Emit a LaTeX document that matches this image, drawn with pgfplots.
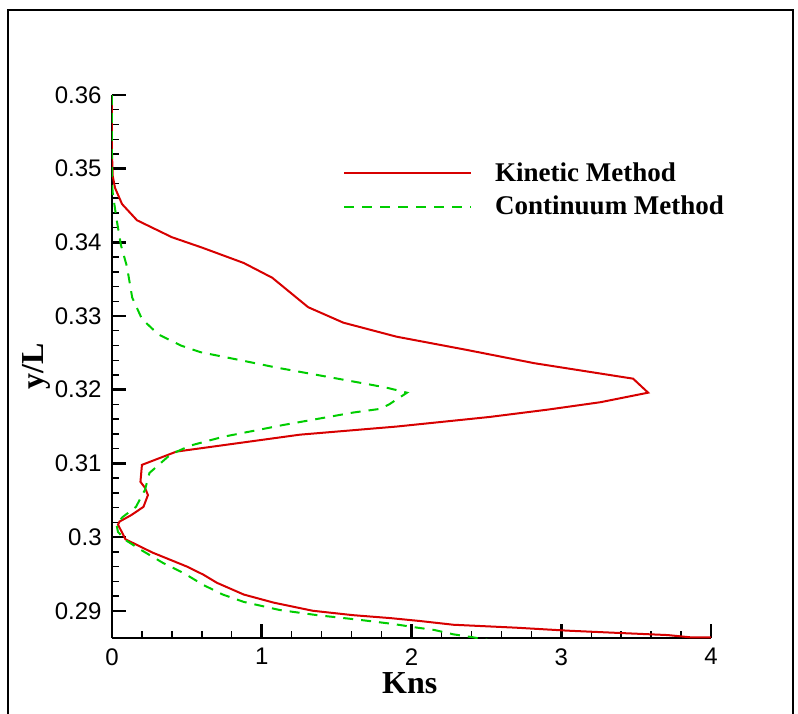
\documentclass[border=0pt]{standalone}
\usepackage{fontspec}
\setmainfont{Liberation Serif}
\newfontfamily\ticksans{Liberation Sans}
\usepackage{pgfplots}
\pgfplotsset{compat=1.18}
\definecolor{kred}{RGB}{215,0,0}
\definecolor{cgreen}{RGB}{0,205,0}
\begin{document}
\begin{tikzpicture}
\useasboundingbox (0,0) rectangle (399pt,-356.5pt);
\draw[line width=1.2pt] (4pt,-5pt) rectangle (396.5pt,-370pt);
\begin{axis}[
  at={(56pt,-319pt)}, anchor=south west,
  scale only axis, width=299.5pt, height=271.5pt,
  xmin=0, xmax=4, ymin=0.2863, ymax=0.36,
  axis lines=left, axis line style={-, line width=1.25pt},
  tick align=inside,
  xtick={0,1,2,3,4},
  xticklabels={0,1,2,3,4},
  ytick={0.29,0.30,0.31,0.32,0.33,0.34,0.35,0.36},
  yticklabels={0.29,0.3,0.31,0.32,0.33,0.34,0.35,0.36},
  scaled y ticks=false,
  minor x tick num=4, minor y tick num=4,
  major tick length=7pt, minor tick length=3.5pt,
  every major tick/.append style={line width=1.25pt, black},
  every minor tick/.append style={line width=0.7pt, black},
  ticklabel style={font=\ticksans\fontsize{12}{12}\selectfont},
  yticklabel style={anchor=east, inner sep=0pt, xshift=-5pt},
  xticklabel style={anchor=north, inner sep=0pt, yshift=-5pt},
  xlabel={Kns}, ylabel={y/L},
  xlabel style={at={(rel axis cs:0.497,-0.083)}, anchor=center, font=\bfseries\fontsize{16}{16}\selectfont},
  ylabel style={at={(rel axis cs:-0.127,0.501)}, anchor=center, font=\bfseries\fontsize{16}{16}\selectfont},
  legend style={draw=none, fill=none, at={(rel axis cs:0.386,0.825)}, anchor=west,
    inner sep=0pt, outer sep=0pt, row sep=6pt,
    font=\bfseries\fontsize{13.5}{13.5}\selectfont,
    nodes={inner sep=0pt},
    /tikz/every odd column/.append style={column sep=11.5pt}},
  legend image code/.code={\draw[#1] (0pt,0pt) -- (63.5pt,0pt);},
  legend cell align=left,
]
\addplot[kred, line width=1pt] coordinates {
(0,0.360) (0,0.352) (0.005,0.349) (0.02,0.3474) (0.067,0.3452) (0.167,0.3430)
(0.40,0.3407) (0.60,0.3393) (0.88,0.3372) (1.07,0.3352) (1.31,0.3312)
(1.545,0.3291) (1.90,0.3272) (2.37,0.3254) (2.82,0.3236) (3.48,0.3215)
(3.58,0.3196) (3.26,0.3183) (2.91,0.3173) (2.52,0.3163) (1.90,0.3150)
(1.255,0.3139) (0.43,0.3116) (0.20,0.3098) (0.19,0.3075) (0.22,0.3067)
(0.24,0.3057) (0.21,0.3041) (0.13,0.3030) (0.05,0.3021) (0.04,0.3017)
(0.09,0.2997) (0.27,0.2979) (0.50,0.2960) (0.61,0.2949) (0.70,0.2938)
(0.88,0.2922) (1.08,0.2911) (1.34,0.2900) (1.61,0.2894) (1.86,0.2890)
(2.06,0.2886) (2.28,0.2881) (2.70,0.2877) (3.04,0.2873) (3.37,0.2870)
(3.71,0.2867) (3.86,0.2864) (4.0,0.2864)
};
\addlegendentry{Kinetic Method}
\addplot[cgreen, line width=1pt, dash pattern=on 5pt off 4pt] coordinates {
(0,0.360) (0,0.348) (0.005,0.3467) (0.03,0.3432) (0.06,0.3396) (0.10,0.3367)
(0.135,0.3325) (0.20,0.3296) (0.31,0.3275) (0.46,0.3260) (0.59,0.3251)
(0.86,0.3240) (1.10,0.3230) (1.48,0.3216) (1.75,0.3206) (1.85,0.3202)
(1.97,0.3196) (1.85,0.3180) (1.79,0.3174) (1.61,0.3169) (1.14,0.3152)
(0.74,0.3136) (0.52,0.3124) (0.39,0.3112) (0.25,0.3087) (0.22,0.3064)
(0.16,0.3041) (0.07,0.3027) (0.03,0.3017) (0.04,0.3007) (0.09,0.2996)
(0.19,0.2983) (0.34,0.2965) (0.48,0.2951) (0.61,0.2935) (0.74,0.2922)
(0.88,0.2912) (1.12,0.2901) (1.37,0.2894) (1.64,0.2888) (1.88,0.2882)
(2.04,0.2877) (2.15,0.2874) (2.28,0.2868) (2.41,0.2864) (2.52,0.2860)
};
\addlegendentry{Continuum Method}
\end{axis}
\end{tikzpicture}
\end{document}
